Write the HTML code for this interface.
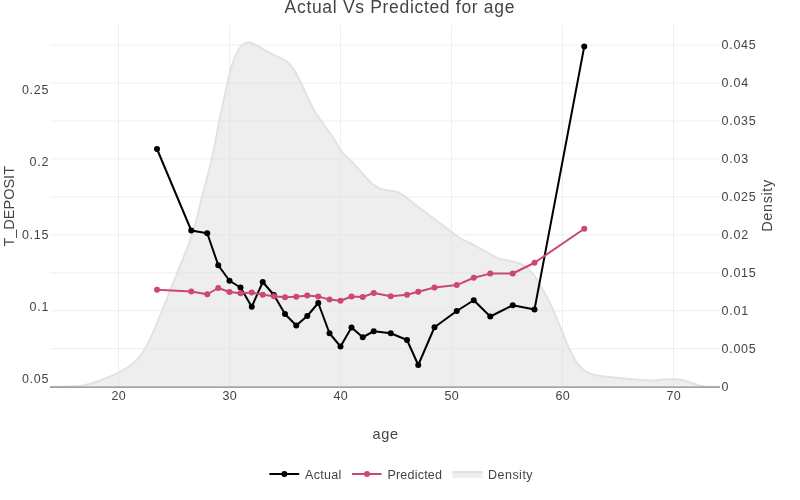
<!DOCTYPE html>
<html><head><meta charset="utf-8"><title>Actual Vs Predicted for age</title>
<style>html,body{margin:0;padding:0;background:#fff;width:800px;height:500px;overflow:hidden;font-family:"Liberation Sans",sans-serif}</style></head>
<body>
<svg width="800" height="500" viewBox="0 0 800 500" style="position:absolute;left:0;top:0;font-family:'Liberation Sans',sans-serif">
<rect width="800" height="500" fill="#fff"/>
<line x1="118.5" x2="118.5" y1="25" y2="387" stroke="#eee" stroke-width="1"/>
<line x1="229.5" x2="229.5" y1="25" y2="387" stroke="#eee" stroke-width="1"/>
<line x1="340.5" x2="340.5" y1="25" y2="387" stroke="#eee" stroke-width="1"/>
<line x1="451.5" x2="451.5" y1="25" y2="387" stroke="#eee" stroke-width="1"/>
<line x1="562.5" x2="562.5" y1="25" y2="387" stroke="#eee" stroke-width="1"/>
<line x1="673.5" x2="673.5" y1="25" y2="387" stroke="#eee" stroke-width="1"/>
<line x1="50" x2="719.9" y1="45.10" y2="45.10" stroke="#eee" stroke-width="1"/>
<line x1="50" x2="719.9" y1="83.05" y2="83.05" stroke="#eee" stroke-width="1"/>
<line x1="50" x2="719.9" y1="121.00" y2="121.00" stroke="#eee" stroke-width="1"/>
<line x1="50" x2="719.9" y1="158.95" y2="158.95" stroke="#eee" stroke-width="1"/>
<line x1="50" x2="719.9" y1="196.90" y2="196.90" stroke="#eee" stroke-width="1"/>
<line x1="50" x2="719.9" y1="234.85" y2="234.85" stroke="#eee" stroke-width="1"/>
<line x1="50" x2="719.9" y1="272.80" y2="272.80" stroke="#eee" stroke-width="1"/>
<line x1="50" x2="719.9" y1="310.75" y2="310.75" stroke="#eee" stroke-width="1"/>
<line x1="50" x2="719.9" y1="348.70" y2="348.70" stroke="#eee" stroke-width="1"/>
<path d="M50.00,386.75 L51.50,386.75 L53.00,386.74 L54.50,386.74 L56.00,386.73 L57.50,386.71 L59.00,386.70 L60.50,386.68 L62.00,386.66 L63.50,386.63 L65.00,386.60 L66.50,386.57 L68.00,386.54 L69.50,386.50 L71.00,386.46 L72.50,386.42 L74.00,386.37 L75.50,386.32 L77.00,386.27 L78.50,386.19 L80.00,386.03 L81.50,385.80 L83.00,385.50 L84.50,385.16 L86.00,384.79 L87.50,384.40 L89.00,384.01 L90.50,383.62 L92.00,383.20 L93.50,382.75 L95.00,382.25 L96.50,381.73 L98.00,381.19 L99.50,380.63 L101.00,380.07 L102.50,379.50 L104.00,378.93 L105.50,378.35 L107.00,377.76 L108.50,377.16 L110.00,376.54 L111.50,375.91 L113.00,375.25 L114.50,374.57 L116.00,373.87 L117.50,373.13 L119.00,372.37 L120.50,371.58 L122.00,370.75 L123.50,369.89 L125.00,368.99 L126.50,368.05 L128.00,367.06 L129.50,366.01 L131.00,364.91 L132.50,363.75 L134.00,362.50 L135.50,361.14 L137.00,359.66 L138.50,358.03 L140.00,356.25 L141.50,354.21 L143.00,351.88 L144.50,349.34 L146.00,346.69 L147.50,343.96 L149.00,341.06 L150.50,338.01 L152.00,334.84 L153.50,331.50 L155.00,327.95 L156.50,324.26 L158.00,320.57 L159.50,316.96 L161.00,313.40 L162.50,309.84 L164.00,306.22 L165.50,302.49 L167.00,298.60 L168.50,294.63 L170.00,290.69 L171.50,286.88 L173.00,283.26 L174.50,279.73 L176.00,276.18 L177.50,272.50 L179.00,268.74 L180.50,265.01 L182.00,261.29 L183.50,257.54 L185.00,253.73 L186.50,249.85 L188.00,245.86 L189.50,241.73 L191.00,237.45 L192.50,232.97 L194.00,228.27 L195.50,223.29 L197.00,217.67 L198.50,211.55 L200.00,205.23 L201.50,199.00 L203.00,193.11 L204.50,187.42 L206.00,181.82 L207.50,176.19 L209.00,170.40 L210.50,164.34 L212.00,157.89 L213.50,150.77 L215.00,143.26 L216.50,135.61 L218.00,127.75 L219.50,120.11 L221.00,112.82 L222.50,105.75 L224.00,98.87 L225.50,92.34 L227.00,85.33 L228.50,78.13 L230.00,72.00 L231.50,66.67 L233.00,62.03 L234.50,58.06 L236.00,54.76 L237.50,51.90 L239.00,49.24 L240.50,47.02 L242.00,45.38 L243.50,44.15 L245.00,43.31 L246.50,42.78 L248.00,42.75 L249.50,42.75 L251.00,42.91 L252.50,43.50 L254.00,44.12 L255.50,44.85 L257.00,45.64 L258.50,46.44 L260.00,47.30 L261.50,48.18 L263.00,49.03 L264.50,49.88 L266.00,50.72 L267.50,51.56 L269.00,52.39 L270.50,53.21 L272.00,54.03 L273.50,54.83 L275.00,55.60 L276.50,56.32 L278.00,57.00 L279.50,57.68 L281.00,58.38 L282.50,59.09 L284.00,59.83 L285.50,60.72 L287.00,61.81 L288.50,63.12 L290.00,64.74 L291.50,66.56 L293.00,68.53 L294.50,70.76 L296.00,73.39 L297.50,76.25 L299.00,79.19 L300.50,82.22 L302.00,85.28 L303.50,88.35 L305.00,91.50 L306.50,94.81 L308.00,98.22 L309.50,101.48 L311.00,104.46 L312.50,107.29 L314.00,109.98 L315.50,112.53 L317.00,114.93 L318.50,117.18 L320.00,119.32 L321.50,121.40 L323.00,123.46 L324.50,125.54 L326.00,127.66 L327.50,129.74 L329.00,131.81 L330.50,133.88 L332.00,136.00 L333.50,138.20 L335.00,140.50 L336.50,143.09 L338.00,145.88 L339.50,148.51 L341.00,150.66 L342.50,152.49 L344.00,154.15 L345.50,155.68 L347.00,157.13 L348.50,158.55 L350.00,159.97 L351.50,161.46 L353.00,163.04 L354.50,164.67 L356.00,166.33 L357.50,168.01 L359.00,169.69 L360.50,171.37 L362.00,173.03 L363.50,174.66 L365.00,176.25 L366.50,177.86 L368.00,179.52 L369.50,181.15 L371.00,182.68 L372.50,184.04 L374.00,185.17 L375.50,186.17 L377.00,187.09 L378.50,187.90 L380.00,188.57 L381.50,189.07 L383.00,189.46 L384.50,189.79 L386.00,190.07 L387.50,190.33 L389.00,190.58 L390.50,190.83 L392.00,191.05 L393.50,191.25 L395.00,191.49 L396.50,191.81 L398.00,192.36 L399.50,193.11 L401.00,194.00 L402.50,194.95 L404.00,195.91 L405.50,196.92 L407.00,198.04 L408.50,199.22 L410.00,200.44 L411.50,201.69 L413.00,202.92 L414.50,204.11 L416.00,205.26 L417.50,206.40 L419.00,207.53 L420.50,208.66 L422.00,209.78 L423.50,210.90 L425.00,212.02 L426.50,213.13 L428.00,214.25 L429.50,215.38 L431.00,216.50 L432.50,217.63 L434.00,218.75 L435.50,219.88 L437.00,221.01 L438.50,222.14 L440.00,223.26 L441.50,224.39 L443.00,225.51 L444.50,226.63 L446.00,227.74 L447.50,228.86 L449.00,229.97 L450.50,231.08 L452.00,232.19 L453.50,233.34 L455.00,234.53 L456.50,235.71 L458.00,236.85 L459.50,237.91 L461.00,238.86 L462.50,239.66 L464.00,240.37 L465.50,241.02 L467.00,241.65 L468.50,242.30 L470.00,243.00 L471.50,243.76 L473.00,244.55 L474.50,245.36 L476.00,246.18 L477.50,247.01 L479.00,247.85 L480.50,248.68 L482.00,249.52 L483.50,250.37 L485.00,251.22 L486.50,252.07 L488.00,252.91 L489.50,253.73 L491.00,254.55 L492.50,255.41 L494.00,256.27 L495.50,257.09 L497.00,257.83 L498.50,258.43 L500.00,258.89 L501.50,259.27 L503.00,259.60 L504.50,259.89 L506.00,260.18 L507.50,260.49 L509.00,260.82 L510.50,261.13 L512.00,261.44 L513.50,261.77 L515.00,262.13 L516.50,262.54 L518.00,263.00 L519.50,263.53 L521.00,264.14 L522.50,264.86 L524.00,265.80 L525.50,266.92 L527.00,268.15 L528.50,269.43 L530.00,270.81 L531.50,272.33 L533.00,274.00 L534.50,275.87 L536.00,277.96 L537.50,280.22 L539.00,282.66 L540.50,285.37 L542.00,288.22 L543.50,291.07 L545.00,293.80 L546.50,296.45 L548.00,299.14 L549.50,301.99 L551.00,305.13 L552.50,308.56 L554.00,312.13 L555.50,315.68 L557.00,319.24 L558.50,322.85 L560.00,326.47 L561.50,330.09 L563.00,333.71 L564.50,337.40 L566.00,341.09 L567.50,344.68 L569.00,348.04 L570.50,351.24 L572.00,354.28 L573.50,357.07 L575.00,359.61 L576.50,361.98 L578.00,364.08 L579.50,365.84 L581.00,367.42 L582.50,368.82 L584.00,370.04 L585.50,371.08 L587.00,372.01 L588.50,372.84 L590.00,373.54 L591.50,374.08 L593.00,374.53 L594.50,374.93 L596.00,375.28 L597.50,375.59 L599.00,375.85 L600.50,376.07 L602.00,376.27 L603.50,376.44 L605.00,376.60 L606.50,376.74 L608.00,376.88 L609.50,377.01 L611.00,377.13 L612.50,377.27 L614.00,377.40 L615.50,377.55 L617.00,377.70 L618.50,377.86 L620.00,378.01 L621.50,378.17 L623.00,378.32 L624.50,378.48 L626.00,378.62 L627.50,378.77 L629.00,378.91 L630.50,379.04 L632.00,379.18 L633.50,379.31 L635.00,379.43 L636.50,379.56 L638.00,379.67 L639.50,379.79 L641.00,379.90 L642.50,380.00 L644.00,380.11 L645.50,380.22 L647.00,380.33 L648.50,380.42 L650.00,380.48 L651.50,380.50 L653.00,380.44 L654.50,380.31 L656.00,380.15 L657.50,379.98 L659.00,379.83 L660.50,379.72 L662.00,379.62 L663.50,379.52 L665.00,379.42 L666.50,379.34 L668.00,379.28 L669.50,379.25 L671.00,379.25 L672.50,379.27 L674.00,379.31 L675.50,379.36 L677.00,379.42 L678.50,379.49 L680.00,379.63 L681.50,379.92 L683.00,380.31 L684.50,380.75 L686.00,381.18 L687.50,381.60 L689.00,382.07 L690.50,382.57 L692.00,383.07 L693.50,383.55 L695.00,384.00 L696.50,384.45 L698.00,384.93 L699.50,385.39 L701.00,385.79 L702.50,386.10 L704.00,386.27 L705.50,386.38 L707.00,386.48 L708.50,386.57 L710.00,386.64 L711.50,386.69 L713.00,386.73 L714.50,386.75 L716.00,386.75 L717.50,386.75 L719.00,386.75 L719.50,386.75 L719.5,386.75 L50,386.75 Z" fill="rgba(221,221,221,0.5)" stroke="none"/>
<path d="M50.00,386.75 L51.50,386.75 L53.00,386.74 L54.50,386.74 L56.00,386.73 L57.50,386.71 L59.00,386.70 L60.50,386.68 L62.00,386.66 L63.50,386.63 L65.00,386.60 L66.50,386.57 L68.00,386.54 L69.50,386.50 L71.00,386.46 L72.50,386.42 L74.00,386.37 L75.50,386.32 L77.00,386.27 L78.50,386.19 L80.00,386.03 L81.50,385.80 L83.00,385.50 L84.50,385.16 L86.00,384.79 L87.50,384.40 L89.00,384.01 L90.50,383.62 L92.00,383.20 L93.50,382.75 L95.00,382.25 L96.50,381.73 L98.00,381.19 L99.50,380.63 L101.00,380.07 L102.50,379.50 L104.00,378.93 L105.50,378.35 L107.00,377.76 L108.50,377.16 L110.00,376.54 L111.50,375.91 L113.00,375.25 L114.50,374.57 L116.00,373.87 L117.50,373.13 L119.00,372.37 L120.50,371.58 L122.00,370.75 L123.50,369.89 L125.00,368.99 L126.50,368.05 L128.00,367.06 L129.50,366.01 L131.00,364.91 L132.50,363.75 L134.00,362.50 L135.50,361.14 L137.00,359.66 L138.50,358.03 L140.00,356.25 L141.50,354.21 L143.00,351.88 L144.50,349.34 L146.00,346.69 L147.50,343.96 L149.00,341.06 L150.50,338.01 L152.00,334.84 L153.50,331.50 L155.00,327.95 L156.50,324.26 L158.00,320.57 L159.50,316.96 L161.00,313.40 L162.50,309.84 L164.00,306.22 L165.50,302.49 L167.00,298.60 L168.50,294.63 L170.00,290.69 L171.50,286.88 L173.00,283.26 L174.50,279.73 L176.00,276.18 L177.50,272.50 L179.00,268.74 L180.50,265.01 L182.00,261.29 L183.50,257.54 L185.00,253.73 L186.50,249.85 L188.00,245.86 L189.50,241.73 L191.00,237.45 L192.50,232.97 L194.00,228.27 L195.50,223.29 L197.00,217.67 L198.50,211.55 L200.00,205.23 L201.50,199.00 L203.00,193.11 L204.50,187.42 L206.00,181.82 L207.50,176.19 L209.00,170.40 L210.50,164.34 L212.00,157.89 L213.50,150.77 L215.00,143.26 L216.50,135.61 L218.00,127.75 L219.50,120.11 L221.00,112.82 L222.50,105.75 L224.00,98.87 L225.50,92.34 L227.00,85.33 L228.50,78.13 L230.00,72.00 L231.50,66.67 L233.00,62.03 L234.50,58.06 L236.00,54.76 L237.50,51.90 L239.00,49.24 L240.50,47.02 L242.00,45.38 L243.50,44.15 L245.00,43.31 L246.50,42.78 L248.00,42.75 L249.50,42.75 L251.00,42.91 L252.50,43.50 L254.00,44.12 L255.50,44.85 L257.00,45.64 L258.50,46.44 L260.00,47.30 L261.50,48.18 L263.00,49.03 L264.50,49.88 L266.00,50.72 L267.50,51.56 L269.00,52.39 L270.50,53.21 L272.00,54.03 L273.50,54.83 L275.00,55.60 L276.50,56.32 L278.00,57.00 L279.50,57.68 L281.00,58.38 L282.50,59.09 L284.00,59.83 L285.50,60.72 L287.00,61.81 L288.50,63.12 L290.00,64.74 L291.50,66.56 L293.00,68.53 L294.50,70.76 L296.00,73.39 L297.50,76.25 L299.00,79.19 L300.50,82.22 L302.00,85.28 L303.50,88.35 L305.00,91.50 L306.50,94.81 L308.00,98.22 L309.50,101.48 L311.00,104.46 L312.50,107.29 L314.00,109.98 L315.50,112.53 L317.00,114.93 L318.50,117.18 L320.00,119.32 L321.50,121.40 L323.00,123.46 L324.50,125.54 L326.00,127.66 L327.50,129.74 L329.00,131.81 L330.50,133.88 L332.00,136.00 L333.50,138.20 L335.00,140.50 L336.50,143.09 L338.00,145.88 L339.50,148.51 L341.00,150.66 L342.50,152.49 L344.00,154.15 L345.50,155.68 L347.00,157.13 L348.50,158.55 L350.00,159.97 L351.50,161.46 L353.00,163.04 L354.50,164.67 L356.00,166.33 L357.50,168.01 L359.00,169.69 L360.50,171.37 L362.00,173.03 L363.50,174.66 L365.00,176.25 L366.50,177.86 L368.00,179.52 L369.50,181.15 L371.00,182.68 L372.50,184.04 L374.00,185.17 L375.50,186.17 L377.00,187.09 L378.50,187.90 L380.00,188.57 L381.50,189.07 L383.00,189.46 L384.50,189.79 L386.00,190.07 L387.50,190.33 L389.00,190.58 L390.50,190.83 L392.00,191.05 L393.50,191.25 L395.00,191.49 L396.50,191.81 L398.00,192.36 L399.50,193.11 L401.00,194.00 L402.50,194.95 L404.00,195.91 L405.50,196.92 L407.00,198.04 L408.50,199.22 L410.00,200.44 L411.50,201.69 L413.00,202.92 L414.50,204.11 L416.00,205.26 L417.50,206.40 L419.00,207.53 L420.50,208.66 L422.00,209.78 L423.50,210.90 L425.00,212.02 L426.50,213.13 L428.00,214.25 L429.50,215.38 L431.00,216.50 L432.50,217.63 L434.00,218.75 L435.50,219.88 L437.00,221.01 L438.50,222.14 L440.00,223.26 L441.50,224.39 L443.00,225.51 L444.50,226.63 L446.00,227.74 L447.50,228.86 L449.00,229.97 L450.50,231.08 L452.00,232.19 L453.50,233.34 L455.00,234.53 L456.50,235.71 L458.00,236.85 L459.50,237.91 L461.00,238.86 L462.50,239.66 L464.00,240.37 L465.50,241.02 L467.00,241.65 L468.50,242.30 L470.00,243.00 L471.50,243.76 L473.00,244.55 L474.50,245.36 L476.00,246.18 L477.50,247.01 L479.00,247.85 L480.50,248.68 L482.00,249.52 L483.50,250.37 L485.00,251.22 L486.50,252.07 L488.00,252.91 L489.50,253.73 L491.00,254.55 L492.50,255.41 L494.00,256.27 L495.50,257.09 L497.00,257.83 L498.50,258.43 L500.00,258.89 L501.50,259.27 L503.00,259.60 L504.50,259.89 L506.00,260.18 L507.50,260.49 L509.00,260.82 L510.50,261.13 L512.00,261.44 L513.50,261.77 L515.00,262.13 L516.50,262.54 L518.00,263.00 L519.50,263.53 L521.00,264.14 L522.50,264.86 L524.00,265.80 L525.50,266.92 L527.00,268.15 L528.50,269.43 L530.00,270.81 L531.50,272.33 L533.00,274.00 L534.50,275.87 L536.00,277.96 L537.50,280.22 L539.00,282.66 L540.50,285.37 L542.00,288.22 L543.50,291.07 L545.00,293.80 L546.50,296.45 L548.00,299.14 L549.50,301.99 L551.00,305.13 L552.50,308.56 L554.00,312.13 L555.50,315.68 L557.00,319.24 L558.50,322.85 L560.00,326.47 L561.50,330.09 L563.00,333.71 L564.50,337.40 L566.00,341.09 L567.50,344.68 L569.00,348.04 L570.50,351.24 L572.00,354.28 L573.50,357.07 L575.00,359.61 L576.50,361.98 L578.00,364.08 L579.50,365.84 L581.00,367.42 L582.50,368.82 L584.00,370.04 L585.50,371.08 L587.00,372.01 L588.50,372.84 L590.00,373.54 L591.50,374.08 L593.00,374.53 L594.50,374.93 L596.00,375.28 L597.50,375.59 L599.00,375.85 L600.50,376.07 L602.00,376.27 L603.50,376.44 L605.00,376.60 L606.50,376.74 L608.00,376.88 L609.50,377.01 L611.00,377.13 L612.50,377.27 L614.00,377.40 L615.50,377.55 L617.00,377.70 L618.50,377.86 L620.00,378.01 L621.50,378.17 L623.00,378.32 L624.50,378.48 L626.00,378.62 L627.50,378.77 L629.00,378.91 L630.50,379.04 L632.00,379.18 L633.50,379.31 L635.00,379.43 L636.50,379.56 L638.00,379.67 L639.50,379.79 L641.00,379.90 L642.50,380.00 L644.00,380.11 L645.50,380.22 L647.00,380.33 L648.50,380.42 L650.00,380.48 L651.50,380.50 L653.00,380.44 L654.50,380.31 L656.00,380.15 L657.50,379.98 L659.00,379.83 L660.50,379.72 L662.00,379.62 L663.50,379.52 L665.00,379.42 L666.50,379.34 L668.00,379.28 L669.50,379.25 L671.00,379.25 L672.50,379.27 L674.00,379.31 L675.50,379.36 L677.00,379.42 L678.50,379.49 L680.00,379.63 L681.50,379.92 L683.00,380.31 L684.50,380.75 L686.00,381.18 L687.50,381.60 L689.00,382.07 L690.50,382.57 L692.00,383.07 L693.50,383.55 L695.00,384.00 L696.50,384.45 L698.00,384.93 L699.50,385.39 L701.00,385.79 L702.50,386.10 L704.00,386.27 L705.50,386.38 L707.00,386.48 L708.50,386.57 L710.00,386.64 L711.50,386.69 L713.00,386.73 L714.50,386.75 L716.00,386.75 L717.50,386.75 L719.00,386.75 L719.50,386.75" fill="none" stroke="#e2e2e2" stroke-width="2" stroke-linejoin="round"/>
<line x1="50" x2="719.9" y1="387.2" y2="387.2" stroke="#858585" stroke-width="1.2"/>
<polyline points="157,149 191.25,230.5 207.25,233.25 218.25,265.25 229.5,280.75 240.5,287.5 251.75,306.75 262.75,282 273.9,295 285,314 296.25,325.5 307.25,316 318.25,303 329.5,333.25 340.5,346.5 351.5,327.5 362.75,337.25 373.75,331.25 390.75,333.25 407,340 418.25,365 434.5,327.25 456.75,311 473.75,300.25 490.25,316.5 512.75,305.25 534.5,309.5 584.25,46.5" fill="none" stroke="#000" stroke-width="2" stroke-linejoin="round"/>
<circle cx="157" cy="149" r="3" fill="#000"/><circle cx="191.25" cy="230.5" r="3" fill="#000"/><circle cx="207.25" cy="233.25" r="3" fill="#000"/><circle cx="218.25" cy="265.25" r="3" fill="#000"/><circle cx="229.5" cy="280.75" r="3" fill="#000"/><circle cx="240.5" cy="287.5" r="3" fill="#000"/><circle cx="251.75" cy="306.75" r="3" fill="#000"/><circle cx="262.75" cy="282" r="3" fill="#000"/><circle cx="273.9" cy="295" r="3" fill="#000"/><circle cx="285" cy="314" r="3" fill="#000"/><circle cx="296.25" cy="325.5" r="3" fill="#000"/><circle cx="307.25" cy="316" r="3" fill="#000"/><circle cx="318.25" cy="303" r="3" fill="#000"/><circle cx="329.5" cy="333.25" r="3" fill="#000"/><circle cx="340.5" cy="346.5" r="3" fill="#000"/><circle cx="351.5" cy="327.5" r="3" fill="#000"/><circle cx="362.75" cy="337.25" r="3" fill="#000"/><circle cx="373.75" cy="331.25" r="3" fill="#000"/><circle cx="390.75" cy="333.25" r="3" fill="#000"/><circle cx="407" cy="340" r="3" fill="#000"/><circle cx="418.25" cy="365" r="3" fill="#000"/><circle cx="434.5" cy="327.25" r="3" fill="#000"/><circle cx="456.75" cy="311" r="3" fill="#000"/><circle cx="473.75" cy="300.25" r="3" fill="#000"/><circle cx="490.25" cy="316.5" r="3" fill="#000"/><circle cx="512.75" cy="305.25" r="3" fill="#000"/><circle cx="534.5" cy="309.5" r="3" fill="#000"/><circle cx="584.25" cy="46.5" r="3" fill="#000"/>
<polyline points="157,289.75 191.25,291.5 207.25,294.25 218.25,288 229.5,292 240.5,293.25 251.75,292.5 262.75,294.75 273.9,296.2 285,297.25 296.25,296.7 307.25,295.6 318.25,296.4 329.5,299.6 340.5,300.75 351.5,296.5 362.75,297 373.75,293 390.75,296.25 407,294.75 418.25,291.75 434.5,287.5 456.75,285.1 473.75,277.75 490.25,273.6 512.75,273.5 534.5,262.75 584.25,228.75" fill="none" stroke="#CC4678" stroke-width="2" stroke-linejoin="round"/>
<circle cx="157" cy="289.75" r="3" fill="#CC4678"/><circle cx="191.25" cy="291.5" r="3" fill="#CC4678"/><circle cx="207.25" cy="294.25" r="3" fill="#CC4678"/><circle cx="218.25" cy="288" r="3" fill="#CC4678"/><circle cx="229.5" cy="292" r="3" fill="#CC4678"/><circle cx="240.5" cy="293.25" r="3" fill="#CC4678"/><circle cx="251.75" cy="292.5" r="3" fill="#CC4678"/><circle cx="262.75" cy="294.75" r="3" fill="#CC4678"/><circle cx="273.9" cy="296.2" r="3" fill="#CC4678"/><circle cx="285" cy="297.25" r="3" fill="#CC4678"/><circle cx="296.25" cy="296.7" r="3" fill="#CC4678"/><circle cx="307.25" cy="295.6" r="3" fill="#CC4678"/><circle cx="318.25" cy="296.4" r="3" fill="#CC4678"/><circle cx="329.5" cy="299.6" r="3" fill="#CC4678"/><circle cx="340.5" cy="300.75" r="3" fill="#CC4678"/><circle cx="351.5" cy="296.5" r="3" fill="#CC4678"/><circle cx="362.75" cy="297" r="3" fill="#CC4678"/><circle cx="373.75" cy="293" r="3" fill="#CC4678"/><circle cx="390.75" cy="296.25" r="3" fill="#CC4678"/><circle cx="407" cy="294.75" r="3" fill="#CC4678"/><circle cx="418.25" cy="291.75" r="3" fill="#CC4678"/><circle cx="434.5" cy="287.5" r="3" fill="#CC4678"/><circle cx="456.75" cy="285.1" r="3" fill="#CC4678"/><circle cx="473.75" cy="277.75" r="3" fill="#CC4678"/><circle cx="490.25" cy="273.6" r="3" fill="#CC4678"/><circle cx="512.75" cy="273.5" r="3" fill="#CC4678"/><circle cx="534.5" cy="262.75" r="3" fill="#CC4678"/><circle cx="584.25" cy="228.75" r="3" fill="#CC4678"/>
<g style="filter:opacity(1)">
<text x="21.9" y="93.9" font-size="12.5" fill="#444" text-anchor="start" textLength="26.6" lengthAdjust="spacing">0.25</text>
<text x="29.5" y="166.20000000000002" font-size="12.5" fill="#444" text-anchor="start" textLength="19" lengthAdjust="spacing">0.2</text>
<text x="21.9" y="238.5" font-size="12.5" fill="#444" text-anchor="start" textLength="26.6" lengthAdjust="spacing">0.15</text>
<text x="29.5" y="310.79999999999995" font-size="12.5" fill="#444" text-anchor="start" textLength="19" lengthAdjust="spacing">0.1</text>
<text x="21.9" y="383.09999999999997" font-size="12.5" fill="#444" text-anchor="start" textLength="26.6" lengthAdjust="spacing">0.05</text>
<text x="721.5" y="49.2" font-size="12.5" fill="#444" text-anchor="start" textLength="34.2" lengthAdjust="spacing">0.045</text>
<text x="721.5" y="87.15" font-size="12.5" fill="#444" text-anchor="start" textLength="26.6" lengthAdjust="spacing">0.04</text>
<text x="721.5" y="125.1" font-size="12.5" fill="#444" text-anchor="start" textLength="34.2" lengthAdjust="spacing">0.035</text>
<text x="721.5" y="163.05" font-size="12.5" fill="#444" text-anchor="start" textLength="26.6" lengthAdjust="spacing">0.03</text>
<text x="721.5" y="201.0" font-size="12.5" fill="#444" text-anchor="start" textLength="34.2" lengthAdjust="spacing">0.025</text>
<text x="721.5" y="238.95" font-size="12.5" fill="#444" text-anchor="start" textLength="26.6" lengthAdjust="spacing">0.02</text>
<text x="721.5" y="276.90000000000003" font-size="12.5" fill="#444" text-anchor="start" textLength="34.2" lengthAdjust="spacing">0.015</text>
<text x="721.5" y="314.8500000000001" font-size="12.5" fill="#444" text-anchor="start" textLength="26.6" lengthAdjust="spacing">0.01</text>
<text x="721.5" y="352.80000000000007" font-size="12.5" fill="#444" text-anchor="start" textLength="34.2" lengthAdjust="spacing">0.005</text>
<text x="721.5" y="390.75000000000006" font-size="12.5" fill="#444" text-anchor="start" textLength="7.6" lengthAdjust="spacing">0</text>
<text x="111.5" y="400.2" font-size="12.5" fill="#444" text-anchor="start" textLength="14.2" lengthAdjust="spacing">20</text>
<text x="222.5" y="400.2" font-size="12.5" fill="#444" text-anchor="start" textLength="14.2" lengthAdjust="spacing">30</text>
<text x="333.5" y="400.2" font-size="12.5" fill="#444" text-anchor="start" textLength="14.2" lengthAdjust="spacing">40</text>
<text x="444.5" y="400.2" font-size="12.5" fill="#444" text-anchor="start" textLength="14.2" lengthAdjust="spacing">50</text>
<text x="555.5" y="400.2" font-size="12.5" fill="#444" text-anchor="start" textLength="14.2" lengthAdjust="spacing">60</text>
<text x="666.5" y="400.2" font-size="12.5" fill="#444" text-anchor="start" textLength="14.2" lengthAdjust="spacing">70</text>
<text x="284.6" y="12.6" font-size="17.5" fill="#444" text-anchor="start" textLength="229.8" lengthAdjust="spacing">Actual Vs Predicted for age</text>
<text x="372.5" y="439.4" font-size="14.5" fill="#444" text-anchor="start" textLength="25.5" lengthAdjust="spacing">age</text>
<g transform="translate(14.4,246.6) rotate(-90)"><text x="0" y="0" font-size="14.5" fill="#444" text-anchor="start" textLength="80.6" lengthAdjust="spacing">T_DEPOSIT</text></g>
<g transform="translate(771.6,231.8) rotate(-90)"><text x="0" y="0" font-size="14.5" fill="#444" text-anchor="start" textLength="52" lengthAdjust="spacing">Density</text></g>
<line x1="269.4" x2="299.2" y1="474" y2="474" stroke="#000" stroke-width="2"/><circle cx="284.4" cy="474" r="3" fill="#000"/>
<text x="305" y="478.6" font-size="12.5" fill="#444" text-anchor="start" textLength="36.4" lengthAdjust="spacing">Actual</text>
<line x1="352" x2="381.6" y1="474" y2="474" stroke="#CC4678" stroke-width="2"/><circle cx="367" cy="474" r="3" fill="#CC4678"/>
<text x="387.4" y="478.6" font-size="12.5" fill="#444" text-anchor="start" textLength="54.6" lengthAdjust="spacing">Predicted</text>
<rect x="452.4" y="471" width="30.2" height="6.8" fill="#eee"/><rect x="452.4" y="471" width="30.2" height="2" fill="#e3e3e3"/>
<text x="488" y="478.6" font-size="12.5" fill="#444" text-anchor="start" textLength="44.6" lengthAdjust="spacing">Density</text>
</g>
</svg>
</body></html>
